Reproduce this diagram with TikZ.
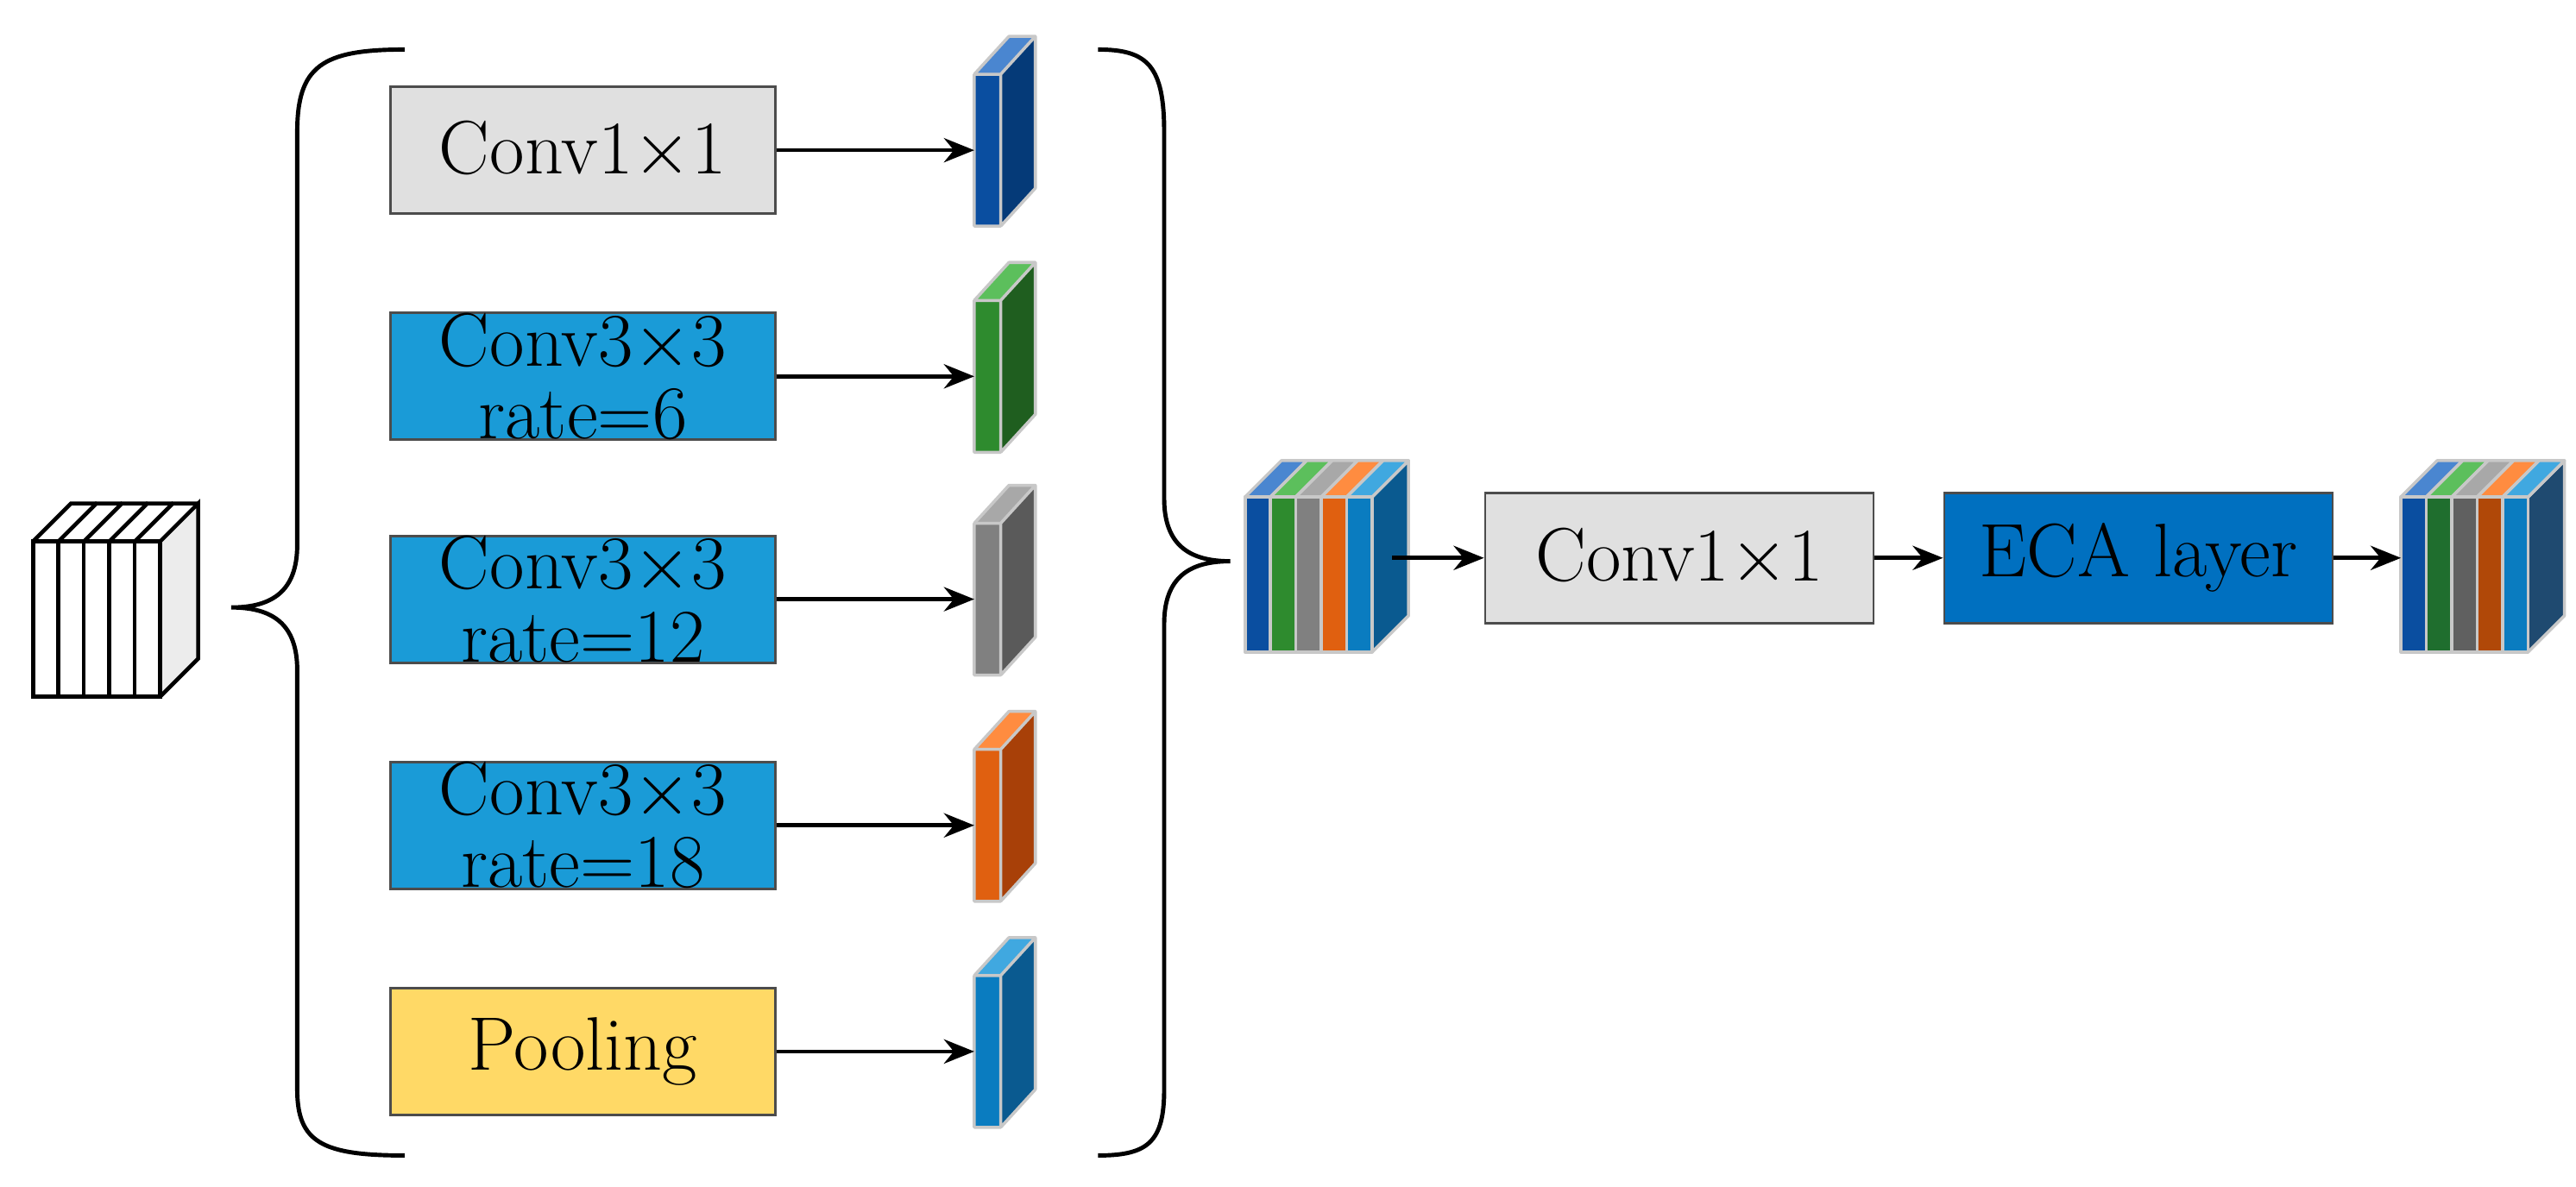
\documentclass[tikz,border=0pt]{standalone}
\usetikzlibrary{arrows.meta}
\definecolor{boxgray}{HTML}{E0E0E0}
\definecolor{boxblue}{HTML}{1A9BD7}
\definecolor{boxyellow}{HTML}{FFD966}
\definecolor{ecablue}{HTML}{0070C0}
\definecolor{edgegray}{HTML}{C8C8C8}
\begin{document}
\begin{tikzpicture}[x=0.019135cm, y=-0.019135cm,
		font=\fontsize{25}{30}\selectfont,
		blk/.style={draw=black!70, line width=0.8pt, minimum width=4.46cm, minimum height=1.47cm, align=center, inner sep=0pt},
		arr/.style={-{Stealth[length=10pt,width=8pt]}, line width=1.3pt},
		slab/.style={draw=edgegray, line width=1pt, line join=round}]
		\useasboundingbox (0,0) rectangle (1560,718.6);
		% branch boxes
		\node[blk, fill=boxgray] (c1) at (353,91) {Conv1$\times$1};
		\node[blk, fill=boxblue] (c6) at (353,228) {Conv3$\times$3\\[-6pt]rate=6};
		\node[blk, fill=boxblue] (c12) at (353,363) {Conv3$\times$3\\[-6pt]rate=12};
		\node[blk, fill=boxblue] (c18) at (353,500) {Conv3$\times$3\\[-6pt]rate=18};
		\node[blk, fill=boxyellow] (pool) at (353,637) {Pooling};
		
		% feature slabs: name/y/front/side/top
		\foreach \n/\y/\fc/\sc/\tc in {f1/91/0A4EA0/053A78/4A86D0, f6/228/2E8B2E/1F5E1F/5CBF5C,
			f12/363/808080/5A5A5A/A8A8A8, f18/500/E06010/A84008/FF8C40, fp/637/0A7CC0/0A5A90/40A8E0} {
			\definecolor{fcol}{HTML}{\fc}\definecolor{scol}{HTML}{\sc}\definecolor{tcol}{HTML}{\tc}
			\fill[fcol] (590,\y-46) rectangle (606,\y+46);
			\fill[scol] (606,\y-46) -- (627,\y-69) -- (627,\y+23) -- (606,\y+46) -- cycle;
			\fill[tcol] (590,\y-46) -- (611,\y-69) -- (627,\y-69) -- (606,\y-46) -- cycle;
			\draw[slab] (590,\y-46) rectangle (606,\y+46) (606,\y-46) -- (627,\y-69) -- (627,\y+23) -- (606,\y+46)
				(590,\y-46) -- (611,\y-69) -- (627,\y-69);
			\coordinate (\n) at (590,\y);
		}
		\foreach \a/\b in {c1/f1, c6/f6, c12/f12, c18/f18, pool/fp}
			\draw[arr] (\a.east) -- (\b);
		
		% input stack
		\fill[boxgray!60] (97,328) -- (120,305) -- (120,399) -- (97,422) -- cycle;
		\foreach \i in {0,...,4} {
			\draw[line width=1.3pt, fill=white] (20+\i*15.4,328) rectangle (35.4+\i*15.4,422);
			\draw[line width=1.3pt] (20+\i*15.4,328) -- (43+\i*15.4,305) -- (58.4+\i*15.4,305);
		}
		\draw[line width=1.3pt] (97,328) -- (120,305) -- (120,399) -- (97,422);
		
		% braces
		\draw[line width=1.4pt] (245,30) .. controls (195,30) and (180,40) .. (180,80) -- (180,330)
			.. controls (180,358) and (165,368) .. (140,368) .. controls (165,368) and (180,378) .. (180,406)
			-- (180,660) .. controls (180,692) and (195,700) .. (245,700);
		\draw[line width=1.4pt] (665,30) .. controls (695,30) and (705,40) .. (705,80) -- (705,302)
			.. controls (705,330) and (720,340) .. (745,340) .. controls (720,340) and (705,350) .. (705,378)
			-- (705,660) .. controls (705,692) and (695,700) .. (665,700);
		
		% concatenated stack
		\definecolor{scol}{HTML}{0A5A90}
		\fill[scol] (831,301) -- (853,279) -- (853,373) -- (831,395) -- cycle;
		\draw[slab] (831,301) -- (853,279) -- (853,373) -- (831,395);
		\foreach \fc/\tc [count=\i from 0] in {0A4EA0/4A86D0, 2E8B2E/5CBF5C, 808080/A8A8A8, E06010/FF8C40, 0A7CC0/40A8E0} {
			\definecolor{fcol}{HTML}{\fc}\definecolor{tcol}{HTML}{\tc}
			\draw[slab, fill=fcol] (754+\i*15.4,301) rectangle (769.4+\i*15.4,395);
			\draw[slab, fill=tcol] (754+\i*15.4,301) -- (776+\i*15.4,279) -- (791.4+\i*15.4,279) -- (769.4+\i*15.4,301) -- cycle;
		}
		\coordinate (cat) at (843,338);
		
		% output stack
		\definecolor{scol}{HTML}{1F4A70}
		\fill[scol] (1531,301) -- (1553,279) -- (1553,373) -- (1531,395) -- cycle;
		\draw[slab] (1531,301) -- (1553,279) -- (1553,373) -- (1531,395);
		\foreach \fc/\tc [count=\i from 0] in {0A4EA0/4A86D0, 1F6E2E/5CBF5C, 606060/A8A8A8, B04808/FF8C40, 0A7CC0/40A8E0} {
			\definecolor{fcol}{HTML}{\fc}\definecolor{tcol}{HTML}{\tc}
			\draw[slab, fill=fcol] (1454+\i*15.4,301) rectangle (1469.4+\i*15.4,395);
			\draw[slab, fill=tcol] (1454+\i*15.4,301) -- (1476+\i*15.4,279) -- (1491.4+\i*15.4,279) -- (1469.4+\i*15.4,301) -- cycle;
		}
		\coordinate (out) at (1454,338);
		
		% fusion
		\node[blk, fill=boxgray, minimum width=4.5cm, minimum height=1.51cm] (fuse) at (1017,338) {Conv1$\times$1};
		\node[blk, fill=ecablue, minimum width=4.5cm, minimum height=1.51cm] (eca) at (1295,338) {ECA layer};
		\draw[arr] (cat) -- (fuse.west);
		\draw[arr] (fuse.east) -- (eca.west);
		\draw[arr] (eca.east) -- (out);
\end{tikzpicture}
\end{document}
